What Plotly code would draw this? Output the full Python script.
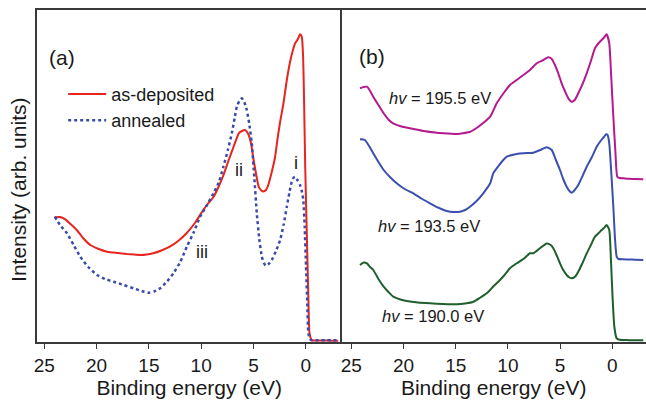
import plotly.graph_objects as go

# ---------------- Panel (a) data ----------------
asdep_E = [24.0, 23.5, 23.0, 22.5, 21.9, 21.3, 20.6, 19.8, 19.0, 18.0, 17.1, 16.4, 15.8, 15.2, 14.6, 13.8,
           13.0, 12.2, 11.4, 10.6, 9.8, 9.3, 8.8, 8.3, 7.9, 7.4, 6.9, 6.4, 6.1, 5.8, 5.5, 5.2, 5.0, 4.75,
           4.5, 4.25, 4.05, 3.8, 3.57, 3.25, 2.93, 2.7, 2.45, 2.14, 1.81, 1.5, 1.25, 1.02, 0.75, 0.54,
           0.38, 0.25, 0.16, 0.05, -0.1, -0.25, -0.35, -0.5, -0.6, -1.0, -1.5, -2.0, -2.5, -3.1]
asdep_I = [124.7, 125, 122.7, 118, 112, 104, 97, 93, 90.3, 89, 88, 87.5, 87, 87.5, 88.7, 91.5,
           95.3, 101, 108.7, 119, 132, 139, 145.3, 156, 166, 181, 195.3, 208.7, 211, 212, 208, 197, 183, 168,
           155.3, 151.5, 150.5, 152, 157.5, 170, 185, 203, 220, 238, 262, 280, 291, 298.5, 303, 307.7,
           305.3, 285, 242, 175, 109, 45, 10, 3, 1.5, 1.5, 1.5, 1.5, 1.3, 1.2]

ann_E = [24.0, 23.5, 22.83, 22.2, 21.56, 20.8, 19.96, 19.2, 18.38, 17.4, 16.47, 15.7, 15.03, 14.5, 13.92,
         13.3, 12.65, 12.0, 11.37, 10.7, 10.1, 9.5, 8.82, 8.3, 7.87, 7.45, 7.07, 6.8, 6.59, 6.35, 6.11,
         5.88, 5.64, 5.4, 5.16, 4.92, 4.68, 4.44, 4.2, 4.0, 3.82, 3.55, 3.25, 2.85, 2.45, 2.1, 1.81, 1.55,
         1.34, 1.15, 1.02, 0.8, 0.54, 0.4, 0.23, 0.1, -0.03, -0.15, -0.25, -0.4, -0.48, -1.0, -1.5, -2.0,
         -2.5, -3.1]
ann_I = [125.3, 117, 108.7, 97, 85.3, 75, 67, 63, 60.3, 57, 53.7, 51, 49.3, 50.5, 53.7,
         60, 68.7, 80, 95.3, 110, 125.3, 136, 148.7, 160, 175.3, 192, 208.7, 224, 235.3, 241, 243.7,
         240, 232, 218, 198.7, 165, 128.7, 103, 85.3, 79, 76.3, 78, 82, 91, 102, 118, 135.3, 150,
         160.3, 164.5, 165.3, 162, 157, 152, 142, 115, 75.3, 38, 8.7, 3, 2, 1.8, 1.8, 1.8,
         1.7, 1.6]

# ---------------- Panel (b) data ----------------
e1955_E = [24.17, 23.8, 23.5, 23.2, 22.9, 22.4, 21.9, 21.4, 21.0, 20.2, 19.4, 18.1, 16.8, 15.8, 14.9, 14.2,
           13.6, 13.0, 12.4, 11.7, 11.07, 10.4, 9.8, 9.16, 8.52, 7.88, 7.24, 6.6, 6.13, 5.8, 5.49, 5.15,
           4.85, 4.5, 4.21, 3.89, 3.6, 3.26, 2.85, 2.45, 2.05, 1.66, 1.3, 1.02, 0.75, 0.54, 0.29, 0.1,
           -0.1, -0.3, -0.48, -0.7, -1.05, -1.6, -2.2, -2.97]
e1955_I = [253.7, 255, 255.3, 251, 245.3, 237, 228.7, 222, 218.7, 215.5, 213.7, 211, 209.3, 208.5, 208, 209,
           210.3, 214, 218.7, 225.3, 238.7, 249, 257, 262, 267, 272, 278.7, 282, 284.7, 283, 277, 268,
           258.7, 250, 243.7, 240.3, 242, 248.7, 258, 268.7, 281, 293.7, 299, 302, 305, 307.7, 298.7, 265,
           225.3, 190, 165.3, 164, 163.7, 163.2, 163, 162.7]

e1935_E = [24.17, 23.7, 23.3, 22.9, 22.4, 21.9, 21.3, 20.65, 19.9, 19.06, 18.3, 17.46, 16.7, 15.86, 15.2,
           14.59, 14.1, 13.63, 13.0, 12.36, 11.7, 11.4, 10.9, 10.44, 10.1, 9.6, 9.16, 8.52, 7.9, 7.57, 6.9,
           6.28, 5.8, 5.4, 5.01, 4.7, 4.37, 4.1, 3.89, 3.6, 3.26, 2.85, 2.45, 1.95, 1.49, 1.05, 0.8, 0.6,
           0.45, 0.29, 0.1, -0.1, -0.25, -0.42, -0.6, -1.05, -1.6, -2.2, -2.97]
e1935_I = [202.7, 202, 196, 188.7, 180, 172, 165, 158.7, 153, 148.7, 143.5, 138.7, 134.5, 131, 130,
           130.3, 132, 135.3, 141, 148.7, 158.7, 168.7, 176, 182, 185.3, 187, 188, 188.7, 189, 189.3, 192,
           194.7, 192, 182, 172, 163, 155.3, 151, 149.3, 152, 157, 166, 175.3, 185, 195.3, 202, 205, 207.7,
           207, 198.7, 170, 135.3, 105, 85.3, 83, 82.7, 82.5, 82.3, 82]

e1900_E = [24.17, 23.8, 23.5, 23.2, 22.9, 22.4, 21.9, 21.4, 20.98, 20.3, 19.7, 18.6, 17.46, 16.2, 14.9, 14.1,
           13.3, 12.7, 12.03, 11.7, 11.4, 10.76, 10.4, 9.8, 9.16, 8.52, 7.88, 7.57, 6.9, 6.28, 5.9, 5.65,
           5.3, 5.01, 4.7, 4.37, 4.1, 3.85, 3.55, 3.26, 2.85, 2.45, 2.05, 1.66, 1.3, 1.02, 0.75, 0.54,
           0.29, 0.12, -0.04, -0.2, -0.42, -0.7, -1.05, -1.6, -2.2, -2.97]
e1900_I = [77, 79.5, 78.7, 75, 72, 63, 55.3, 49.5, 45.3, 42.5, 41, 39.5, 38.7, 38, 37.7, 38.5,
           40.3, 44, 48.7, 52, 55.5, 62, 66, 73.7, 78.7, 83, 88.7, 88.7, 94, 98.5, 97, 93.7,
           86, 78.7, 72, 67, 64.5, 63.7, 65.5, 70.3, 79, 88.7, 97, 105.3, 109, 112, 114.5, 117,
           112, 80, 42, 15, 3.7, 2.2, 2, 1.8, 1.8, 1.7]

tick_vals = [25, 20, 15, 10, 5, 0]
tick_text = ["25", "20", "15", "10", "5", "0"]

FONT = "Liberation Sans, Arial, Helvetica, sans-serif"
AX = "#3a3a3a"
SM = 0.5

fig = go.Figure()
fig.add_trace(go.Scatter(x=asdep_E, y=asdep_I, mode="lines", name="as-deposited",
                         line=dict(color="#e8241f", width=2, shape="spline", smoothing=SM),
                         xaxis="x", yaxis="y"))
fig.add_trace(go.Scatter(x=ann_E, y=ann_I, mode="lines", name="annealed",
                         line=dict(color="#3a4aa8", width=2.5, dash="3px,3px", shape="spline", smoothing=SM),
                         xaxis="x", yaxis="y"))
fig.add_trace(go.Scatter(x=e1955_E, y=e1955_I, mode="lines", showlegend=False,
                         line=dict(color="#b4198e", width=2, shape="spline", smoothing=SM),
                         xaxis="x2", yaxis="y2"))
fig.add_trace(go.Scatter(x=e1935_E, y=e1935_I, mode="lines", showlegend=False,
                         line=dict(color="#3b4fae", width=2, shape="spline", smoothing=SM),
                         xaxis="x2", yaxis="y2"))
fig.add_trace(go.Scatter(x=e1900_E, y=e1900_I, mode="lines", showlegend=False,
                         line=dict(color="#1f5f2c", width=2, shape="spline", smoothing=SM),
                         xaxis="x2", yaxis="y2"))

xcommon = dict(showline=True, linecolor=AX, linewidth=1.5, mirror=True, ticks="outside",
               ticklen=5, tickwidth=1.2, tickcolor=AX, showgrid=False, zeroline=False,
               tickvals=tick_vals, ticktext=tick_text,
               tickfont=dict(family=FONT, size=19, color="#1a1a1a"),
               title=dict(text="Binding energy (eV)", font=dict(family=FONT, size=21, color="#1a1a1a"),
                          standoff=3))
fig.update_layout(
    width=646, height=402,
    margin=dict(l=37, r=0, t=10, b=60),
    paper_bgcolor="white", plot_bgcolor="white",
    xaxis=dict(domain=[0, 0.5], range=[25.7, -3.42], anchor="y", **xcommon),
    xaxis2=dict(domain=[0.5, 1.0], range=[25.94, -3.23], anchor="y2", **xcommon),
    yaxis=dict(range=[0, 332], showline=True, linecolor=AX, linewidth=1.5, mirror=False,
               showticklabels=False, ticks="", showgrid=False, zeroline=False, anchor="x"),
    yaxis2=dict(range=[0, 332], showline=True, linecolor=AX, linewidth=1.5, mirror=False,
                showticklabels=False, ticks="", showgrid=False, zeroline=False, anchor="x2"),
    legend=dict(x=0.043, y=0.802, xanchor="left", yanchor="top", bgcolor="rgba(0,0,0,0)",
                font=dict(family=FONT, size=18, color="#1a1a1a"), itemwidth=38, tracegroupgap=0),
    showlegend=True,
)

txt = dict(family=FONT, color="#1a1a1a")
annos = [
    dict(x=23.28, y=285, xref="x", yref="y", text="(a)", showarrow=False, font=dict(size=21, **txt)),
    dict(x=6.37, y=172, xref="x", yref="y", text="ii", showarrow=False, font=dict(size=18, **txt)),
    dict(x=0.93, y=179, xref="x", yref="y", text="i", showarrow=False, font=dict(size=18, **txt)),
    dict(x=9.9, y=90, xref="x", yref="y", text="iii", showarrow=False, font=dict(size=18, **txt)),
    dict(x=23.02, y=286, xref="x2", yref="y2", text="(b)", showarrow=False, font=dict(size=21, **txt)),
    dict(x=16.52, y=244, xref="x2", yref="y2", text="<i>hv</i> = 195.5 eV", showarrow=False,
         font=dict(size=16.5, **txt)),
    dict(x=17.57, y=116, xref="x2", yref="y2", text="<i>hv</i> = 193.5 eV", showarrow=False,
         font=dict(size=16.5, **txt)),
    dict(x=17.2, y=26, xref="x2", yref="y2", text="<i>hv</i> = 190.0 eV", showarrow=False,
         font=dict(size=16.5, **txt)),
    dict(x=0, y=0.458, xref="paper", yref="paper", xanchor="center", yanchor="middle", xshift=-18,
         text="Intensity (arb. units)", textangle=-90, showarrow=False, font=dict(size=21, **txt)),
]
fig.update_layout(annotations=annos)

fig.write_html("out.html")
